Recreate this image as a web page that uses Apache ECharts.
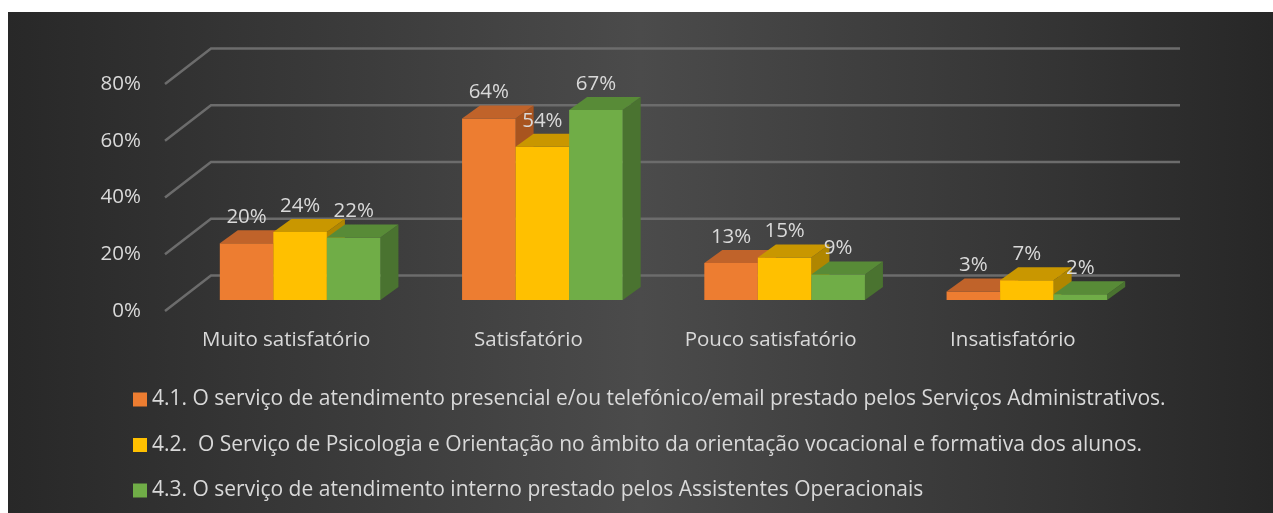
<!DOCTYPE html>
<html>
<head>
<meta charset="utf-8">
<script src="https://cdn.jsdelivr.net/npm/echarts@6/dist/echarts.min.js"></script>
<style>
  html, body { margin: 0; padding: 0; background: #fff; }
  #main { width: 1273px; height: 513px; }
</style>
</head>
<body>
<div id="main"></div>
<script>
// dados (%)
var categorias = ['Muito satisfatório', 'Satisfatório', 'Pouco satisfatório', 'Insatisfatório'];
var nomes = [
  '4.1. O serviço de atendimento presencial e/ou telefónico/email prestado pelos Serviços Administrativos.',
  '4.2.  O Serviço de Psicologia e Orientação no âmbito da orientação vocacional e formativa dos alunos.',
  '4.3. O serviço de atendimento interno prestado pelos Assistentes Operacionais'
];
var servAdmin = [20, 64, 13, 3];
var servPsico = [24, 54, 15, 7];
var servAssist = [22, 67, 9, 2];
var yTicks = [0, 20, 40, 60, 80];

var cores = [
  { front: '#ED7D31', top: '#C0632A', side: '#A8541F' },
  { front: '#FFC000', top: '#C99700', side: '#B08600' },
  { front: '#70AD47', top: '#588B37', side: '#4A7330' }
];
var fonte = '"Open Sans", "Noto Sans", sans-serif';
var corTexto = '#d9d9d9';

// perspetiva: parede do fundo e posição das barras na profundidade
var WALL_DX = 46, WALL_DY = -35.5;
var BAR_DX = 14, BAR_DY = -11;
var SIDE_DX = 18, SIDE_DY = -13;

var myChart = echarts.init(document.getElementById('main'));

function barra3d(k) {
  return function (params, api) {
    var cat = api.value(0), v = api.value(1);
    var base = api.coord([cat, 0]);
    var topo = api.coord([cat, v]);
    var bandW = api.size([1, 0])[0];
    var bw = bandW * 0.221;
    var x0 = base[0] + BAR_DX - 1.5 * bw + k * bw;
    var y0 = base[1] + BAR_DY;
    var yt = topo[1] + BAR_DY;
    var c = cores[k];
    return {
      type: 'group',
      children: [
        {
          type: 'polygon',
          shape: { points: [[x0 + bw, yt], [x0 + bw + SIDE_DX, yt + SIDE_DY], [x0 + bw + SIDE_DX, y0 + SIDE_DY], [x0 + bw, y0]] },
          style: { fill: c.side }
        },
        {
          type: 'rect',
          shape: { x: x0, y: yt, width: bw, height: y0 - yt },
          style: { fill: c.front }
        },
        {
          type: 'polygon',
          shape: { points: [[x0, yt], [x0 + bw, yt], [x0 + bw + SIDE_DX, yt + SIDE_DY], [x0 + SIDE_DX, yt + SIDE_DY]] },
          style: { fill: c.top }
        },
        {
          type: 'text',
          z2: 10,
          style: {
            text: v + '%',
            x: x0 + bw / 2,
            y: yt - 26,
            align: 'center',
            verticalAlign: 'middle',
            fill: corTexto,
            font: '20.5px ' + fonte
          }
        }
      ]
    };
  };
}

var valores = [servAdmin, servPsico, servAssist];
var series = [{
  name: 'grade',
  type: 'custom',
  silent: true,
  z: 1,
  data: yTicks.map(function (t) { return [0, t]; }),
  encode: { x: 0, y: 1 },
  renderItem: function (params, api) {
    var cs = params.coordSys;
    var y = api.coord([0, api.value(1)])[1];
    return {
      type: 'polyline',
      shape: { points: [[cs.x, y], [cs.x + WALL_DX, y + WALL_DY], [cs.x + cs.width + WALL_DX, y + WALL_DY]] },
      style: { stroke: '#6c6c6c', lineWidth: 2.5, fill: null }
    };
  }
}];
valores.forEach(function (arr, k) {
  series.push({
    name: nomes[k],
    type: 'custom',
    z: 3 + k,
    itemStyle: { color: cores[k].front },
    data: arr.map(function (v, i) { return [i, v]; }),
    encode: { x: 0, y: 1 },
    renderItem: barra3d(k)
  });
});

myChart.setOption({
  animation: false,
  graphic: [{
    type: 'rect',
    z: -10,
    shape: { x: 8, y: 12, width: 1265, height: 501 },
    style: {
      fill: new echarts.graphic.LinearGradient(0, 0, 1, 0, [
        { offset: 0, color: '#282828' },
        { offset: 0.2, color: '#363636' },
        { offset: 0.5, color: '#4b4b4b' },
        { offset: 0.8, color: '#363636' },
        { offset: 1, color: '#272727' }
      ])
    }
  }],
  grid: {
    left: 165,
    right: 139,
    top: 84,
    bottom: 202,
    containLabel: false
  },
  legend: {
    data: nomes,
    orient: 'vertical',
    left: 128,
    top: 384,
    icon: 'rect',
    itemWidth: 14,
    itemHeight: 14,
    itemGap: 24.5,
    textStyle: { color: corTexto, fontFamily: fonte, fontSize: 21, lineHeight: 20 }
  },
  xAxis: {
    type: 'category',
    data: categorias,
    axisLine: { show: false },
    axisTick: { show: false },
    axisLabel: { color: corTexto, fontFamily: fonte, fontSize: 20.5, margin: 19 }
  },
  yAxis: {
    type: 'value',
    min: 0,
    max: 80,
    interval: 20,
    axisLine: { show: false },
    axisTick: { show: false },
    splitLine: { show: false },
    axisLabel: { color: corTexto, fontFamily: fonte, fontSize: 20.5, margin: 24, formatter: '{value}%' }
  },
  series: series
});
</script>
</body>
</html>
